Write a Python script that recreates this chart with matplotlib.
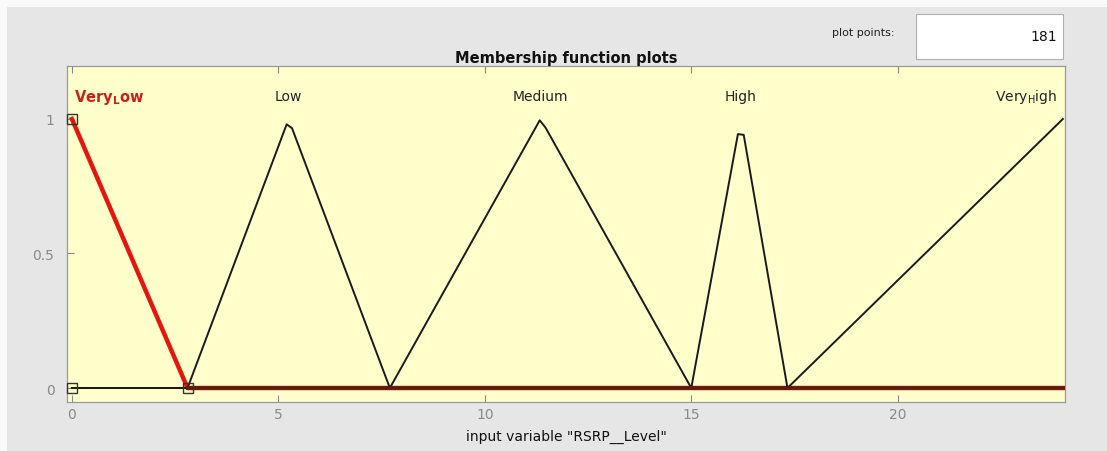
import matplotlib.pyplot as plt
from matplotlib.patches import Rectangle

# membership function vertices for "RSRP__Level" (sampled at 181 plot points)
verylow_x = [0, 2.8, 24]
verylow_y = [1, 0, 0]
low_x = [0, 2.8, 5.2, 5.33, 7.7, 24]
low_y = [0, 0, 0.98, 0.966, 0, 0]
medium_x = [0, 7.7, 11.33, 11.47, 15.0, 24]
medium_y = [0, 0, 0.995, 0.968, 0, 0]
high_x = [0, 15.0, 16.13, 16.27, 17.33, 24]
high_y = [0, 0, 0.944, 0.941, 0, 0]
veryhigh_x = [0, 17.33, 24]
veryhigh_y = [0, 0, 1]

mf_names = [r'Very$_\mathregular{L}$ow', 'Low', 'Medium', 'High', r'Very$_\mathregular{H}$igh']
name_x = [0.05, 5.23, 11.35, 16.2, 23.85]

# parameter handles of the selected function
handle_x = [0, 0, 2.8]
handle_y = [1, 0, 0]

fig = plt.figure(figsize=(11.07, 4.52), dpi=100)
fig.patch.set_facecolor('#e6e6e6')
fig.patches.append(Rectangle((0, 0.982), 1, 0.018, transform=fig.transFigure,
                             facecolor='#fafafa', edgecolor='none', zorder=0))
fig.patches.append(Rectangle((0, 0), 0.006, 1, transform=fig.transFigure,
                             facecolor='#fafafa', edgecolor='none', zorder=0))

ax = fig.add_axes([0.0605, 0.1084, 0.9015, 0.7434])
ax.set_facecolor('#ffffcc')

ax.plot(verylow_x, verylow_y, color='#e8150f', lw=3.2, zorder=3)
for xs, ys in [(low_x, low_y), (medium_x, medium_y), (high_x, high_y),
               (veryhigh_x, veryhigh_y)]:
    ax.plot(xs, ys, color='#1a1a1a', lw=1.4, zorder=4)
# overlap of the red function with the others along zero
ax.plot([2.8, 24], [0, 0], color='#5c1c0e', lw=2.7, zorder=5)
ax.plot(handle_x, handle_y, linestyle='none', marker='s', markersize=7.5,
        markerfacecolor='none', markeredgecolor='#333333', markeredgewidth=1.0,
        zorder=6, clip_on=False)

for i, (name, nx) in enumerate(zip(mf_names, name_x)):
    if i == 0:
        ax.text(nx, 1.085, name, color='#c8201a', fontsize=10.5, fontweight='bold',
                ha='left', va='center')
    elif i == len(mf_names) - 1:
        ax.text(nx, 1.085, name, color='#222222', fontsize=10, ha='right', va='center')
    else:
        ax.text(nx, 1.085, name, color='#222222', fontsize=10, ha='center', va='center')

ax.set_xlim(-0.12, 24.05)
ax.set_ylim(-0.052, 1.197)
ax.set_xticks([0, 5, 10, 15, 20])
ax.set_yticks([0, 0.5, 1])
ax.set_yticklabels(['0', '0.5', '1'])
ax.tick_params(direction='in', top=True, right=False, length=5, width=0.8,
               colors='#888888', labelsize=10, labelcolor='#8a8a8a')
ax.tick_params(axis='y', pad=9)
for s in ax.spines.values():
    s.set_color('#9a9a9a')
    s.set_linewidth(0.9)

ax.set_title('Membership function plots', fontsize=10.5, fontweight='bold',
             color='#111111', pad=3)
ax.set_xlabel('input variable "RSRP__Level"', fontsize=10, color='#111111', labelpad=6)

# plot points box
fig.text(0.808, 0.928, 'plot points:', fontsize=8, color='#222222', ha='right', va='center')
fig.patches.append(Rectangle((0.8275, 0.867), 0.1328, 0.1, transform=fig.transFigure,
                             facecolor='white', edgecolor='#b0b0b0', lw=0.8))
fig.text(0.955, 0.918, '181', fontsize=10, color='#111111', ha='right', va='center')

fig.savefig('out.png', dpi=100, facecolor=fig.get_facecolor())
